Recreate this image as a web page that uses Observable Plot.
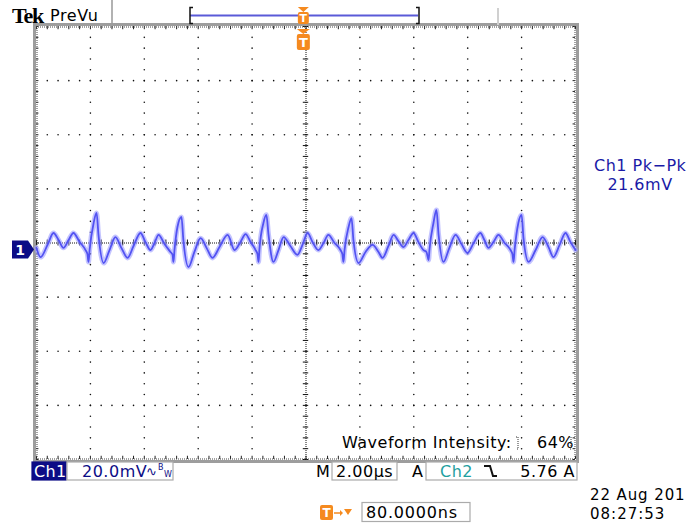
<!DOCTYPE html>
<html><head><meta charset="utf-8">
<script src="https://cdn.jsdelivr.net/npm/d3@7"></script>
<script src="https://cdn.jsdelivr.net/npm/@observablehq/plot@0.6"></script>
<style>body{margin:0;background:#fff} svg{display:block}</style>
</head><body><div id="chart"></div>
<script>
const timeUs = [-10.0,-9.85,-9.59,-9.37,-9.18,-9.00,-8.81,-8.63,-8.40,-8.18,
  -8.11,-8.07,-8.03,-7.88,-7.77,-7.70,-7.51,-7.29,-7.07,-6.85,
  -6.62,-6.40,-6.14,-5.96,-5.77,-5.62,-5.47,-5.25,-5.03,-4.95,
  -4.92,-4.88,-4.77,-4.62,-4.55,-4.36,-4.14,-3.91,-3.69,-3.47,
  -3.21,-2.91,-2.65,-2.43,-2.24,-2.06,-1.87,-1.80,-1.76,-1.73,
  -1.58,-1.47,-1.39,-1.21,-1.02,-0.83,-0.58,-0.32,-0.13,0.06,
  0.24,0.46,0.65,0.83,1.06,1.28,1.35,1.39,1.43,1.58,
  1.69,1.76,1.95,2.21,2.47,2.69,2.84,3.06,3.25,3.43,
  3.62,3.80,3.99,4.17,4.36,4.47,4.55,4.58,4.73,4.84,
  4.92,5.10,5.32,5.55,5.77,5.99,6.22,6.47,6.62,6.77,
  6.96,7.14,7.37,7.59,7.66,7.70,7.74,7.88,8.00,8.07,
  8.26,8.52,8.78,9.00,9.18,9.41,9.63,9.81,10.0];
const ch1mV = [-1.8,-5.2,-0.7,3.7,1.1,-1.8,1.1,3.7,0.4,-2.6,
  -4.1,-7.0,-2.6,7.4,11.1,3.0,-7.4,-2.6,2.2,-1.8,
  -5.5,-1.1,3.7,0.4,-2.6,0.0,3.0,-0.4,-3.3,-4.4,
  -7.0,-2.6,5.9,9.6,1.1,-8.9,-3.3,1.8,-1.8,-5.5,
  -1.5,3.0,-2.6,0.4,3.3,0.4,-2.6,-4.1,-7.0,-2.6,
  7.4,10.4,3.0,-7.0,-2.6,2.2,-1.1,-4.4,-0.7,3.7,
  0.4,-2.6,0.0,3.0,0.0,-2.6,-4.1,-7.0,-2.6,5.9,
  9.2,1.1,-7.4,-3.3,-0.7,-3.3,-5.5,-1.1,3.0,0.7,
  -1.5,1.1,3.7,0.4,-2.6,-3.3,-6.3,-2.6,7.4,12.2,
  3.0,-7.0,-1.8,3.0,-0.4,-3.7,0.0,3.7,1.1,-1.8,
  0.4,3.0,0.0,-2.6,-4.1,-7.0,-2.6,7.4,10.4,1.8,
  -7.0,-2.6,2.2,-1.5,-5.2,-0.7,3.7,0.4,-2.6];
const xMajorTicks = [-10,-8,-6,-4,-2,0,2,4,6,8,10];   // µs, 2.00 µs/div
const yMajorTicks = [-80,-60,-40,-20,0,20,40,60,80];  // mV, 20.0 mV/div
const minorPerDiv = 5;
const groundMv = -2.6;
const triggerUs = -0.08;   // 80.0000 ns horizontal delay
const headerBrand = "Tek", headerMode = "PreVu";
const measName = "Ch1 Pk\u2212Pk", measValue = "21.6mV";
const intensityLabel = "Waveform Intensity:", intensityValue = "64%";
const ch1Label = "Ch1", ch1Scale = "20.0mV";
const timeLabel = "M", timeScale = "2.00\u00b5s";
const trigLabel = "A", trigSource = "Ch2", trigLevel = "5.76 A";
const delayValue = "80.0000ns";
const dateLine = "22 Aug 201", timeLine = "08:27:53";

// ---- derived ----
const trace = timeUs.map((t, i) => ({t, v: ch1mV[i]}));
const sub = ticks => ticks.slice(0, -1).flatMap((a, i) => {
  const b = ticks[i + 1];
  return d3.range(minorPerDiv).map(k => a + (b - a) * k / minorPerDiv);
}).concat([ticks[ticks.length - 1]]);
const minorX = sub(xMajorTicks), minorY = sub(yMajorTicks);
const xIn = xMajorTicks.slice(1, -1).filter(d => d !== 0);
const yIn = yMajorTicks.slice(1, -1).filter(d => d !== 0);
const gridDots = [
  ...xIn.flatMap(x => minorY.slice(1, -1).map(y => ({x, y}))),
  ...yIn.flatMap(y => minorX.slice(1, -1).map(x => ({x, y})))
];
const x0 = xMajorTicks[0], x1 = xMajorTicks[xMajorTicks.length - 1];
const y0 = yMajorTicks[0], y1 = yMajorTicks[yMajorTicks.length - 1];

const chart = Plot.plot({
  width: 689, height: 524,
  marginLeft: 36, marginRight: 114, marginTop: 26, marginBottom: 65,
  x: {domain: [x0, x1], axis: null},
  y: {domain: [y0, y1], axis: null},
  style: {background: "#fff", overflow: "visible"},
  marks: [
    Plot.dot(gridDots, {x: "x", y: "y", r: 0.8, fill: "#111", stroke: null}),
    // center cross
    Plot.ruleX([0], {stroke: "#111", strokeDasharray: "1,1"}),
    Plot.ruleY([0], {stroke: "#111", strokeDasharray: "1,1"}),
    Plot.ruleY(minorY, {x1: -0.1, x2: 0.1, stroke: "#111"}),
    Plot.ruleX(minorX, {y1: -1.1, y2: 1.1, stroke: "#111"}),
    // edge ticks
    Plot.ruleX(minorX, {y1: y1, y2: y1 - 1.2, stroke: "#222"}),
    Plot.ruleX(minorX, {y1: y0, y2: y0 + 1.2, stroke: "#222"}),
    Plot.ruleY(minorY, {x1: x0, x2: x0 + 0.09, stroke: "#222"}),
    Plot.ruleY(minorY, {x1: x1, x2: x1 - 0.09, stroke: "#222"}),
    Plot.ruleY([y1], {stroke: "#444", strokeDasharray: "1,1", dy: 0.5}),
    Plot.ruleY([y0], {stroke: "#444", strokeDasharray: "1,1", dy: -0.5}),
    Plot.ruleX([x0], {stroke: "#444", strokeDasharray: "1,1", dx: 0.5}),
    Plot.ruleX([x1], {stroke: "#444", strokeDasharray: "1,1", dx: -0.5}),
    Plot.frame({stroke: "#9d9d9d", strokeWidth: 3, inset: -2}),
    // waveform
    Plot.line(trace, {x: "t", y: "v", curve: "monotone-x", stroke: "#9c9cff", strokeWidth: 5, strokeOpacity: 0.6}),
    Plot.line(trace, {x: "t", y: "v", curve: "monotone-x", stroke: "#5252f2", strokeWidth: 1.8})
  ]
});
document.getElementById("chart").appendChild(chart);

// ---- scope chrome ----
const svg = d3.select(chart);
const X = v => chart.scale("x").apply(v), Y = v => chart.scale("y").apply(v);
const L = X(x0), R = X(x1), T = Y(y1), B = Y(y0);
const F = "'DejaVu Sans', Verdana, sans-serif";
const ORANGE = "#f58a1f", NAVY = "#0c0c86";
function txt(x, y, s, o = {}) {
  return svg.append("text").attr("x", x).attr("y", y).text(s)
    .attr("font-family", o.family || F).attr("font-size", o.size || 16)
    .attr("font-weight", o.weight || "normal").attr("fill", o.fill || "#000")
    .attr("text-anchor", o.anchor || "start").attr("letter-spacing", o.ls ?? 0.5);
}
function box(x, y, w, h, stroke = "#ababab", fill = "#fff") {
  svg.append("rect").attr("x", x).attr("y", y).attr("width", w).attr("height", h)
    .attr("fill", fill).attr("stroke", stroke).attr("stroke-width", 1.2);
}
function tMarker(cx, ytop, w, h, fs) {
  svg.append("path").attr("d", `M${cx - w/2},${ytop} L${cx + w/2},${ytop} L${cx},${ytop + 5} Z`).attr("fill", ORANGE);
  svg.append("rect").attr("x", cx - w/2).attr("y", ytop + 5).attr("width", w).attr("height", h).attr("rx", 2).attr("fill", ORANGE);
  txt(cx, ytop + 5 + h/2 + fs*0.36, "T", {size: fs, weight: "bold", fill: "#fff", anchor: "middle", ls: 0});
}

// header
txt(12, 23, headerBrand, {family: "'Liberation Serif', serif", size: 22, weight: "bold", ls: -1.2});
txt(50, 21, headerMode, {size: 16, ls: 0.6});
svg.append("line").attr("x1", 112).attr("x2", 112).attr("y1", 0).attr("y2", 24).attr("stroke", "#999").attr("stroke-width", 1.5);
svg.append("line").attr("x1", 190).attr("x2", 418).attr("y1", 15.5).attr("y2", 15.5).attr("stroke", "#5a5ad8").attr("stroke-width", 2);
svg.append("path").attr("d", "M193,7.5 h-3 v16 h3").attr("fill", "none").attr("stroke", "#111").attr("stroke-width", 1.5);
svg.append("path").attr("d", "M416,7.5 h3 v16 h-3").attr("fill", "none").attr("stroke", "#111").attr("stroke-width", 1.5);
svg.append("line").attr("x1", 498).attr("x2", 498).attr("y1", 8).attr("y2", 25).attr("stroke", "#d0d0d0").attr("stroke-width", 2);
tMarker(X(triggerUs), 7, 11, 12, 11);
tMarker(X(triggerUs), T + 3, 13, 16, 13);

// ground marker
const yg = Y(groundMv);
svg.append("path").attr("d", `M12,${yg - 9} h16 l6,9 l-6,9 h-16 Z`).attr("fill", NAVY);
txt(20, yg + 5.5, "1", {size: 14, weight: "bold", fill: "#fff", anchor: "middle", ls: 0});

// measurement
txt(594, 171, measName, {fill: "#1a1aa6"});
txt(640, 190, measValue, {fill: "#1a1aa6", anchor: "middle"});

// waveform intensity
txt(342, 448, intensityLabel, {});
txt(537, 448, intensityValue, {});
[518, 571].forEach(xb => svg.append("path").attr("d", `M${xb - 2},437 h2 v12 h-2`).attr("fill", "none")
  .attr("stroke", "#333").attr("stroke-dasharray", "1,1"));

// status bar
const sb = B + 3;
box(32, sb, 34, 18, NAVY, NAVY);
txt(34, sb + 15, ch1Label, {fill: "#fff", ls: 0.3});
box(67, sb, 106, 18);
txt(82, sb + 15, ch1Scale, {fill: NAVY});
txt(146, sb + 14, "\u223f", {fill: NAVY, size: 13, ls: 0});
txt(158, sb + 8, "B", {fill: NAVY, size: 8, ls: 0});
txt(164, sb + 15, "W", {fill: NAVY, size: 8, ls: 0});
txt(316, sb + 15, timeLabel, {});
box(332, sb, 65, 18);
txt(336, sb + 15, timeScale, {});
txt(412, sb + 15, trigLabel, {});
box(426, sb, 151, 18);
txt(440, sb + 15, trigSource, {fill: "#1fa0a0"});
svg.append("path").attr("d", `M484,${sb + 4} h6 l3,10 h4`).attr("fill", "none").attr("stroke", "#111").attr("stroke-width", 2);
txt(575, sb + 15, trigLevel, {anchor: "end"});

// delay row
svg.append("rect").attr("x", 320).attr("y", 505).attr("width", 13).attr("height", 15).attr("rx", 2).attr("fill", ORANGE);
txt(326.5, 517, "T", {size: 12, weight: "bold", fill: "#fff", anchor: "middle", ls: 0});
svg.append("path").attr("d", "M334,513 h7").attr("stroke", ORANGE).attr("stroke-width", 1.5);
svg.append("path").attr("d", "M340,510 l3,3 l-3,3 Z").attr("fill", ORANGE);
svg.append("path").attr("d", "M344,509 h8 l-4,6 Z").attr("fill", ORANGE);
box(362, 502.5, 108, 19);
txt(366, 518, delayValue, {ls: 0.8});
txt(590, 500, dateLine, {size: 15, ls: 0.9});
txt(590, 519, timeLine, {size: 15, ls: 1});
</script>
</body></html>
